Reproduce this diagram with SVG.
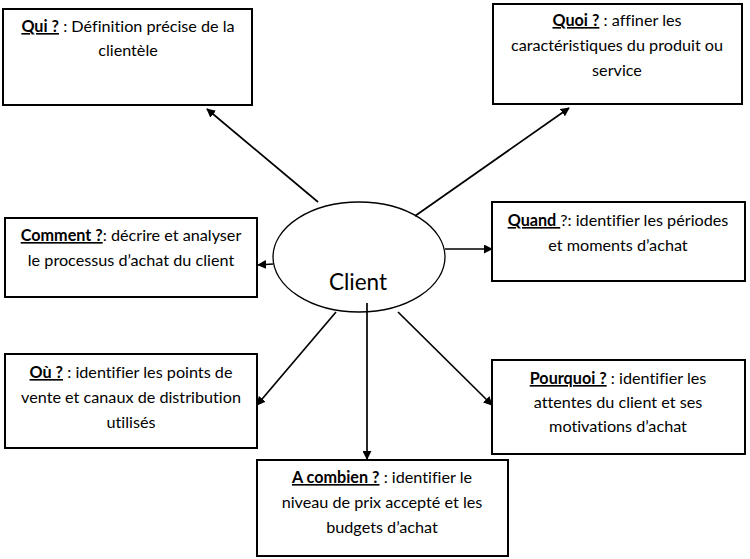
<svg xmlns="http://www.w3.org/2000/svg" width="750" height="559" viewBox="0 0 750 559">
<defs>
<style>
.box{fill:#fff;stroke:#000;stroke-width:2}
.t{font-family:Lato,"Liberation Sans",sans-serif;font-size:16.2px;fill:#000;text-anchor:middle;font-variant-ligatures:none}
.k{font-weight:bold;text-decoration:underline}
.c{stroke:#000;stroke-width:1.7;fill:none;marker-end:url(#ah)}
</style>
<marker id="ah" viewBox="0 0 10 10" refX="9" refY="5" markerWidth="9" markerHeight="9" markerUnits="userSpaceOnUse" orient="auto">
<path d="M0,0 L10,5 L0,10 z" fill="#000"/>
</marker>
</defs>
<rect width="750" height="559" fill="#fff"/>
<g id="connectors">
<line class="c" x1="318" y1="202" x2="207" y2="109"/>
<line class="c" x1="415" y1="216" x2="569" y2="108"/>
<line class="c" x1="273" y1="264" x2="258" y2="265"/>
<line class="c" x1="445" y1="249" x2="492" y2="249"/>
<line class="c" x1="336" y1="312" x2="257" y2="405"/>
<line class="c" x1="398" y1="312" x2="492" y2="405"/>
<line class="c" x1="367" y1="303" x2="367" y2="459"/>
</g>
<g id="client">
<ellipse cx="359" cy="257" rx="86" ry="55" fill="none" stroke="#000" stroke-width="1.3"/>
<text x="358" y="290" style="font-family:Lato,'Liberation Sans',sans-serif;font-size:22.5px;text-anchor:middle;fill:#000">Client</text>
</g>
<g id="qui">
<rect class="box" x="3" y="9" width="249" height="96"/>
<text class="t" x="128" y="32"><tspan class="k">Qui ?</tspan> : Définition précise de la</text>
<text class="t" x="128" y="56">clientèle</text>
</g>
<g id="quoi">
<rect class="box" x="493" y="4" width="249" height="100"/>
<text class="t" x="617" y="26"><tspan class="k">Quoi ?</tspan> : affiner les</text>
<text class="t" x="617" y="51">caractéristiques du produit ou</text>
<text class="t" x="617" y="76">service</text>
</g>
<g id="comment">
<rect class="box" x="5" y="218" width="252" height="79"/>
<text class="t" x="131" y="241"><tspan class="k">Comment ?</tspan>: décrire et analyser</text>
<text class="t" x="131" y="266">le processus d’achat du client</text>
</g>
<g id="quand">
<rect class="box" x="492" y="202" width="253" height="79"/>
<text class="t" x="618" y="226"><tspan class="k">Quand </tspan>?: identifier les périodes</text>
<text class="t" x="618" y="251">et moments d’achat</text>
</g>
<g id="ou">
<rect class="box" x="5" y="354" width="252" height="94"/>
<text class="t" x="131" y="378"><tspan class="k">Où ?</tspan> : identifier les points de</text>
<text class="t" x="131" y="403">vente et canaux de distribution</text>
<text class="t" x="131" y="428">utilisés</text>
</g>
<g id="pourquoi">
<rect class="box" x="492" y="360" width="253" height="94"/>
<text class="t" x="618" y="384"><tspan class="k">Pourquoi ?</tspan> : identifier les</text>
<text class="t" x="618" y="408">attentes du client et ses</text>
<text class="t" x="618" y="432">motivations d’achat</text>
</g>
<g id="acombien">
<rect class="box" x="257" y="460" width="251" height="96"/>
<text class="t" x="382" y="483"><tspan class="k">A combien ?</tspan> : identifier le</text>
<text class="t" x="382" y="508">niveau de prix accepté et les</text>
<text class="t" x="382" y="533">budgets d’achat</text>
</g>
</svg>
